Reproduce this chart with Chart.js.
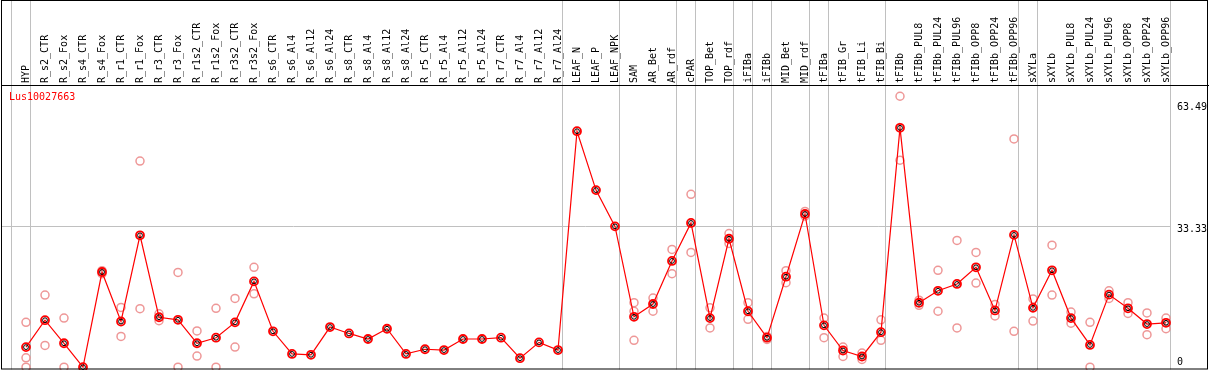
<!DOCTYPE html>
<html>
<head>
<meta charset="utf-8">
<script src="https://cdn.jsdelivr.net/npm/chart.js@4.4.1/dist/chart.umd.min.js"></script>
<style>
  html, body { margin: 0; padding: 0; background: #fff; }
  #wrap { width: 1209px; height: 370px; }
</style>
</head>
<body>
<div id="wrap"><canvas id="lineChart" width="1209" height="370"></canvas></div>
<script>
var geneName = 'Lus10027663';

var categories = ['HYP','R_s2_CTR','R_s2_Fox','R_s4_CTR','R_s4_Fox','R_r1_CTR','R_r1_Fox','R_r3_CTR','R_r3_Fox',
  'R_r1s2_CTR','R_r1s2_Fox','R_r3s2_CTR','R_r3s2_Fox','R_s6_CTR','R_s6_Al4','R_s6_Al12','R_s6_Al24',
  'R_s8_CTR','R_s8_Al4','R_s8_Al12','R_s8_Al24','R_r5_CTR','R_r5_Al4','R_r5_Al12','R_r5_Al24',
  'R_r7_CTR','R_r7_Al4','R_r7_Al12','R_r7_Al24','LEAF_N','LEAF_P','LEAF_NPK','SAM','AR_Bet','AR_rdf',
  'cPAR','TOP_Bet','TOP_rdf','iFIBa','iFIBb','MID_Bet','MID_rdf','tFIBa','tFIB_Gr','tFIB_Li','tFIB_Bi',
  'tFIBb','tFIBb_PUL8','tFIBb_PUL24','tFIBb_PUL96','tFIBb_OPP8','tFIBb_OPP24','tFIBb_OPP96',
  'sXYLa','sXYLb','sXYLb_PUL8','sXYLb_PUL24','sXYLb_PUL96','sXYLb_OPP8','sXYLb_OPP24','sXYLb_OPP96'];

var means = [5.0,11.3,5.9,0.3,22.6,11.0,31.2,12.0,11.4,
  5.9,7.2,10.8,20.4,8.7,3.4,3.2,9.7,
  8.2,6.9,9.3,3.4,4.5,4.3,6.9,6.9,
  7.2,2.4,6.1,4.3,55.6,41.8,33.3,12.1,15.1,25.2,
  34.1,11.8,30.4,13.4,7.2,21.5,36.2,10.1,4.2,2.8,8.5,
  56.4,15.4,18.2,19.8,23.7,13.6,31.3,
  14.2,23.0,11.8,5.5,17.3,14.1,10.4,10.7];

var rep1 = [10.8,17.2,11.8,null,22.9,14.3,48.6,12.8,22.5,
  8.8,14.1,16.4,23.7,null,null,null,null,
  null,null,null,null,null,null,null,null,
  null,null,null,null,null,null,null,15.4,16.5,27.9,
  40.8,14.2,31.6,15.4,7.5,22.9,36.8,11.8,5.0,3.6,11.4,
  63.8,16.0,23.0,30.0,27.2,15.0,53.8,
  16.3,28.9,13.2,10.8,18.2,15.4,13.0,11.8];

var rep2 = [2.5,5.4,0.3,null,22.2,7.5,14.0,11.2,0.3,
  2.9,0.3,5.0,17.5,null,null,null,null,
  null,null,null,null,null,null,null,null,
  null,null,null,null,null,null,null,13.4,13.4,22.2,
  27.2,9.5,29.3,11.5,6.8,20.1,35.7,7.2,2.8,2.1,6.6,
  48.8,14.8,13.4,9.5,20.0,12.3,8.7,
  11.1,17.2,10.6,0.3,16.4,12.9,7.9,9.3];

var rep3 = [0.3,null,null,null,null,null,null,null,null,
  null,null,null,null,null,null,null,null,
  null,null,null,null,null,null,null,null,
  null,null,null,null,null,null,null,6.6,null,null,
  null,null,null,null,null,null,null,null,null,null,null,
  null,null,null,null,null,null,null,
  null,null,null,null,null,null,null,null];

var tickValues = [0, 33.33, 63.49];
var tickLabels = ['0', '33.33', '63.49'];

// indexes where a new sample group starts (gray separators)
var groupStarts = [0,1,29,32,35,36,38,39,40,42,43,46,53,54,61];

var monoFont = '10px "DejaVu Sans Mono", monospace';

var framePlugin = {
  id: 'frame',
  beforeDatasetsDraw: function(chart) {
    var c = chart.ctx, xs = chart.scales.x, ys = chart.scales.y, a = chart.chartArea;
    c.save();
    c.strokeStyle = '#c0c0c0';
    c.lineWidth = 1;
    var right = Math.round(xs.getPixelForValue(categories.length - 0.8)) + 0.5;
    var gy = Math.round(ys.getPixelForValue(tickValues[1])) + 0.5;
    c.beginPath();
    c.moveTo(1, gy);
    c.lineTo(right, gy);
    groupStarts.forEach(function(i) {
      var px = Math.round(xs.getPixelForValue(i - 0.8)) + 0.5;
      c.moveTo(px, 0);
      c.lineTo(px, a.bottom);
    });
    c.stroke();
    c.restore();
  },
  afterDraw: function(chart) {
    var c = chart.ctx, ys = chart.scales.y;
    c.save();
    c.strokeStyle = '#000';
    c.lineWidth = 1;
    c.strokeRect(1.5, 0.5, 1206, 368.5);
    c.beginPath();
    c.moveTo(1, 85.5);
    c.lineTo(1209, 85.5);
    c.stroke();

    c.font = monoFont;
    c.fillStyle = '#ff0000';
    c.textAlign = 'left';
    c.textBaseline = 'middle';
    c.fillText(geneName, 9, 97);

    c.fillStyle = '#000';
    tickValues.forEach(function(v, i) {
      var py = ys.getPixelForValue(v) + 3;
      py = Math.min(Math.max(py, 107), 362);
      c.fillText(tickLabels[i], 1177, py);
    });
    c.restore();
  }
};

function repSet(values) {
  return {
    data: values,
    showLine: false,
    pointRadius: 4,
    pointBorderWidth: 1.5,
    pointBorderColor: 'rgba(236,140,140,0.9)',
    pointBackgroundColor: 'rgba(0,0,0,0)',
    pointHoverRadius: 4,
    order: 3
  };
}

var ctx = document.getElementById('lineChart').getContext('2d');
var lineChart = new Chart(ctx, {
  type: 'line',
  data: {
    labels: categories,
    datasets: [
      {
        data: means,
        borderColor: '#ff0000',
        borderWidth: 1.2,
        pointRadius: 4,
        pointBorderWidth: 1.8,
        pointBorderColor: '#ff0000',
        pointBackgroundColor: 'rgba(0,0,0,0)',
        tension: 0,
        order: 2
      },
      {
        data: means,
        showLine: false,
        pointRadius: 2.4,
        pointBorderWidth: 1,
        pointBorderColor: '#000',
        pointBackgroundColor: 'rgba(0,0,0,0)',
        order: 1
      },
      repSet(rep1),
      repSet(rep2),
      repSet(rep3)
    ]
  },
  options: {
    responsive: false,
    animation: false,
    clip: false,
    layout: { autoPadding: false, padding: { left: 16.5, right: 33.5, top: 0, bottom: 0.5 } },
    plugins: {
      legend: { display: false },
      tooltip: { enabled: false }
    },
    scales: {
      x: {
        position: 'top',
        offset: true,
        grid: { display: false, drawTicks: false },
        border: { display: false },
        ticks: {
          autoSkip: false,
          minRotation: 90,
          maxRotation: 90,
          padding: 3,
          labelOffset: 12,
          color: '#000',
          font: { family: '"DejaVu Sans Mono", monospace', size: 10 }
        },
        afterFit: function(s) { s.height = 86; }
      },
      y: {
        display: false,
        min: -0.25,
        max: 66.2
      }
    }
  },
  plugins: [framePlugin]
});
</script>
</body>
</html>
